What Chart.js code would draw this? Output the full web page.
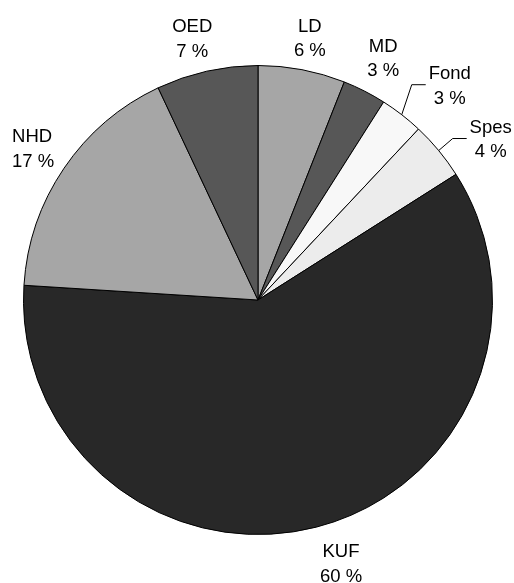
<!DOCTYPE html>
<html>
<head>
<meta charset="utf-8">
<script src="https://cdn.jsdelivr.net/npm/chart.js@4/dist/chart.umd.min.js"></script>
<style>
  html, body { margin: 0; padding: 0; background: #ffffff; overflow: hidden; }
  #wrap { width: 514px; height: 583px; }
  #chart { display: block; }
</style>
</head>
<body>
<div id="wrap"><canvas id="chart" width="514" height="583"></canvas></div>
<script>
// Budget shares by category, clockwise from 12 o'clock
const categories = ['LD', 'MD', 'Fond', 'Spes', 'KUF', 'NHD', 'OED'];
const shares = [6, 3, 3, 4, 60, 17, 7];
const sliceColors = ['#a6a6a6', '#575757', '#f8f8f8', '#ececec', '#282828', '#a6a6a6', '#575757'];

// Label placement: radial position past the rim, plus small nudges
const labelNudge = {
  LD: [1, 4], MD: [2, -0.5], KUF: [15.5, 0], NHD: [-21.4, 0.5], OED: [-6.5, 3]
};
// Slices whose labels are pulled aside and joined by a leader line
const leaders = {
  Fond: { elbow: [10, -30], run: 14 },
  Spes: { elbow: [14, -12], run: 14 }
};

const FONT_SIZE = 18.5;
const FONT = FONT_SIZE + 'px "Liberation Sans", Arial, sans-serif';
const LINE_GAP = 24.5;
const CAP_HALF = 0.358 * FONT_SIZE;

const sliceLabels = {
  id: 'sliceLabels',
  afterDatasetsDraw(chart) {
    const ctx = chart.ctx;
    const meta = chart.getDatasetMeta(0);
    ctx.save();
    ctx.font = FONT;
    ctx.fillStyle = '#000000';
    ctx.textBaseline = 'alphabetic';
    meta.data.forEach((arc, i) => {
      const name = categories[i];
      const lines = [name, shares[i] + ' %'];
      const mid = (arc.startAngle + arc.endAngle) / 2;
      const cx = arc.x, cy = arc.y, R = arc.outerRadius;
      const ux = Math.cos(mid), uy = Math.sin(mid);
      let tx, ty, align = 'center';
      const lead = leaders[name];
      if (lead) {
        const sx = cx + ux * R, sy = cy + uy * R;
        const ex = sx + lead.elbow[0], ey = sy + lead.elbow[1];
        const hx = ex + lead.run;
        ctx.beginPath();
        ctx.strokeStyle = '#000000';
        ctx.lineWidth = 1;
        ctx.moveTo(sx, sy);
        ctx.lineTo(ex, ey);
        ctx.lineTo(hx, ey);
        ctx.stroke();
        tx = hx + 24;
        ty = ey;
      } else {
        const r = R + 37;
        const n = labelNudge[name] || [0, 0];
        tx = cx + ux * r + n[0];
        ty = cy + uy * r + n[1];
        if (name === 'NHD') align = 'left';
      }
      ctx.textAlign = align;
      const top = ty - LINE_GAP / 2;
      lines.forEach((t, k) => ctx.fillText(t, tx, top + k * LINE_GAP + CAP_HALF));
    });
    ctx.restore();
  }
};

new Chart(document.getElementById('chart'), {
  type: 'pie',
  data: {
    labels: categories,
    datasets: [{
      data: shares,
      backgroundColor: sliceColors,
      borderColor: '#000000',
      borderWidth: 1,
      hoverOffset: 0,
      offset: 0
    }]
  },
  options: {
    responsive: false,
    animation: false,
    rotation: 0,
    layout: { padding: { top: 65, bottom: 48, left: 23, right: 21 } },
    plugins: {
      legend: { display: false },
      tooltip: { enabled: false }
    }
  },
  plugins: [sliceLabels]
});
</script>
</body>
</html>
